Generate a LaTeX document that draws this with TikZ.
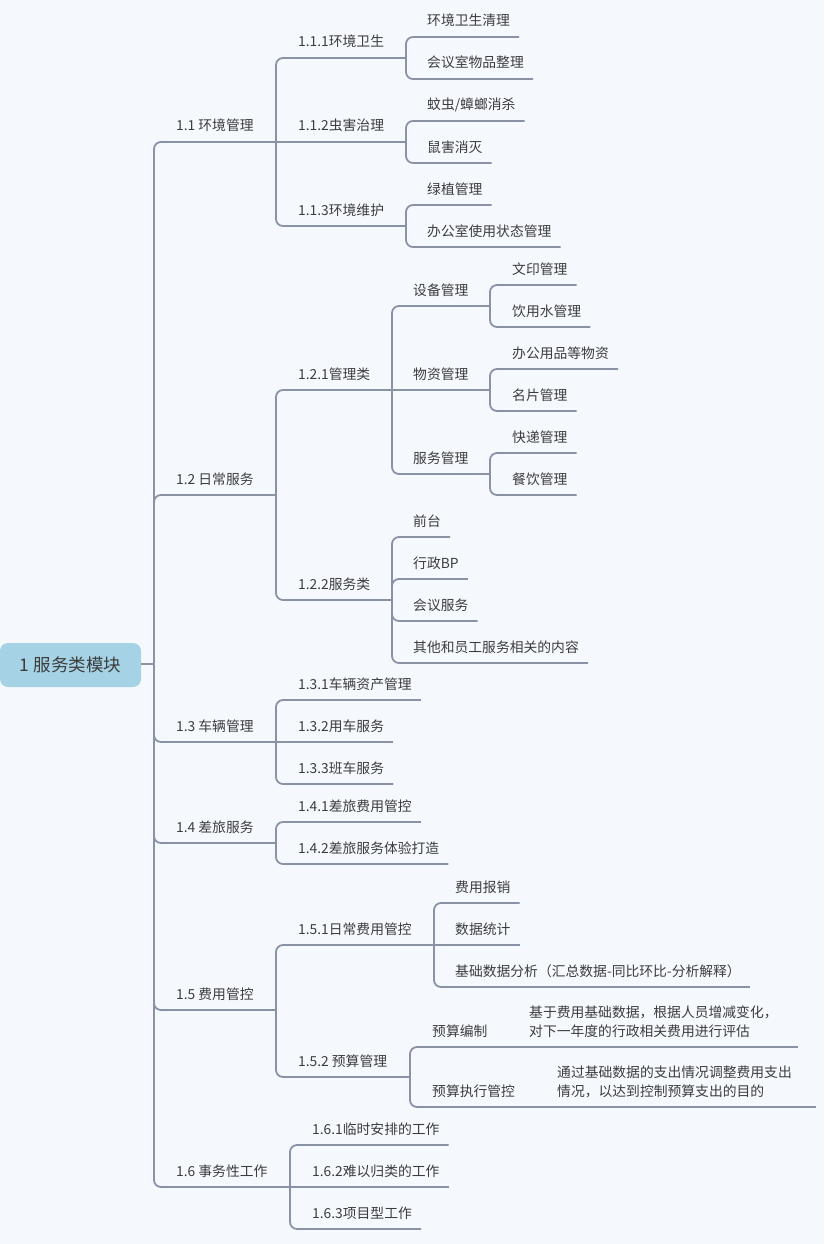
\documentclass[tikz,border=0pt]{standalone}
\usepackage{fontspec}
\setmainfont{Noto Sans CJK SC}
\usetikzlibrary{calc}
\definecolor{bgc}{HTML}{F5F9FE}
\definecolor{linec}{HTML}{8A92A6}
\definecolor{textc}{HTML}{3C3C3C}
\definecolor{rootc}{HTML}{A5D3E5}
\tikzset{
  txt/.style={inner sep=0pt, anchor=base west, text=textc, font=\fontsize{13.8}{19}\selectfont},
  br/.style={draw=linec, line width=1.8pt, rounded corners=7pt},
  rootbox/.style={fill=rootc, rounded corners=8pt, minimum width=141pt, minimum height=44pt,
    inner sep=0pt, text=textc, font=\fontsize{17.5}{20}\selectfont}
}
% item with a fixed underline end (non-leaf)
\newcommand\mmitem[5]{%
  \node[txt] (#1) at (#2,#3-11) {#5};
  \coordinate (#1-e) at (#4,#3);}
% leaf: underline ends 9pt after the text
\newcommand\mmleaf[4]{%
  \node[txt] (#1) at (#2,#3-11) {#4};
  \coordinate (#1-e) at ($(#1.base east)+(9,11)$);}
\newcommand\mmlink[2]{\draw[br] (#1) |- (#2-e);}
\newcommand\mmstraight[2]{\draw[br] (#1) -- (#2-e);}
\begin{document}
\begin{tikzpicture}[x=1pt,y=-1pt]
\useasboundingbox (0,0) rectangle (824,1244);
\fill[bgc] (0,0) rectangle (824,1244);

% root
\node[rootbox] (root) at (70.5,665) {1 服务类模块};
\coordinate (rj) at (154,664);
\draw[br] (root.east |- rj) -- (rj);

% level 1
\mmitem{a}{176}{142}{276}{1.1 环境管理}
\mmitem{b}{176}{495}{276}{1.2 日常服务}
\mmitem{c}{176}{742}{276}{1.3 车辆管理}
\mmitem{d}{176}{843}{276}{1.4 差旅服务}
\mmitem{e}{176}{1010}{276}{1.5 费用管控}
\mmitem{f}{176}{1187}{290}{1.6 事务性工作}
\mmlink{rj}{a}\mmlink{rj}{b}\mmlink{rj}{c}
\mmlink{rj}{d}\mmlink{rj}{e}\mmlink{rj}{f}

% 1.1
\mmitem{a1}{298}{58}{406}{1.1.1环境卫生}
\mmitem{a2}{298}{142}{406}{1.1.2虫害治理}
\mmitem{a3}{298}{226}{406}{1.1.3环境维护}
\mmlink{a-e}{a1}\mmstraight{a-e}{a2}\mmlink{a-e}{a3}
\mmleaf{a11}{427}{37}{环境卫生清理}
\mmleaf{a12}{427}{79}{会议室物品整理}
\mmleaf{a21}{427}{121}{蚊虫/蟑螂消杀}
\mmleaf{a22}{427}{163}{鼠害消灭}
\mmleaf{a31}{427}{205}{绿植管理}
\mmleaf{a32}{427}{247}{办公室使用状态管理}
\mmlink{a1-e}{a11}\mmlink{a1-e}{a12}
\mmlink{a2-e}{a21}\mmlink{a2-e}{a22}
\mmlink{a3-e}{a31}\mmlink{a3-e}{a32}

% 1.2
\mmitem{b1}{298}{390}{392}{1.2.1管理类}
\mmitem{b2}{298}{600}{392}{1.2.2服务类}
\mmlink{b-e}{b1}\mmlink{b-e}{b2}
\mmitem{b11}{413}{306}{490}{设备管理}
\mmitem{b12}{413}{390}{490}{物资管理}
\mmitem{b13}{413}{474}{490}{服务管理}
\mmlink{b1-e}{b11}\mmstraight{b1-e}{b12}\mmlink{b1-e}{b13}
\mmleaf{b111}{512}{285}{文印管理}
\mmleaf{b112}{512}{327}{饮用水管理}
\mmleaf{b121}{512}{369}{办公用品等物资}
\mmleaf{b122}{512}{411}{名片管理}
\mmleaf{b131}{512}{453}{快递管理}
\mmleaf{b132}{512}{495}{餐饮管理}
\mmlink{b11-e}{b111}\mmlink{b11-e}{b112}
\mmlink{b12-e}{b121}\mmlink{b12-e}{b122}
\mmlink{b13-e}{b131}\mmlink{b13-e}{b132}
\mmleaf{b21}{413}{537}{前台}
\mmleaf{b22}{413}{579}{行政BP}
\mmleaf{b23}{413}{621}{会议服务}
\mmleaf{b24}{413}{663}{其他和员工服务相关的内容}
\mmlink{b2-e}{b21}\mmlink{b2-e}{b22}\mmlink{b2-e}{b23}\mmlink{b2-e}{b24}

% 1.3
\mmleaf{c1}{298}{700}{1.3.1车辆资产管理}
\mmleaf{c2}{298}{742}{1.3.2用车服务}
\mmleaf{c3}{298}{784}{1.3.3班车服务}
\mmlink{c-e}{c1}\mmstraight{c-e}{c2}\mmlink{c-e}{c3}

% 1.4
\mmleaf{d1}{298}{822}{1.4.1差旅费用管控}
\mmleaf{d2}{298}{864}{1.4.2差旅服务体验打造}
\mmlink{d-e}{d1}\mmlink{d-e}{d2}

% 1.5
\mmitem{e1}{298}{945}{434}{1.5.1日常费用管控}
\mmitem{e2}{298}{1077}{410}{1.5.2 预算管理}
\mmlink{e-e}{e1}\mmlink{e-e}{e2}
\mmleaf{e11}{455}{903}{费用报销}
\mmleaf{e12}{455}{945}{数据统计}
\mmleaf{e13}{455}{987}{基础数据分析（汇总数据-同比环比-分析解释）}
\mmlink{e1-e}{e11}\mmstraight{e1-e}{e12}\mmlink{e1-e}{e13}
\mmitem{e21}{432}{1047}{521}{预算编制}
\mmitem{e22}{432}{1107}{548}{预算执行管控}
\mmlink{e2-e}{e21}\mmlink{e2-e}{e22}
\node[txt] (e211) at (529,1036) {\parbox[b]{260pt}{\baselineskip=19pt 基于费用基础数据，根据人员增减变化，\\对下一年度的行政相关费用进行评估}};
\coordinate (e211-e) at (798,1047);
\node[txt] (e221) at (557,1096) {\parbox[b]{260pt}{\baselineskip=19pt 通过基础数据的支出情况调整费用支出\\情况，以达到控制预算支出的目的}};
\coordinate (e221-e) at (816,1107);
\mmstraight{e21-e}{e211}\mmstraight{e22-e}{e221}

% 1.6
\mmleaf{f1}{312}{1145}{1.6.1临时安排的工作}
\mmleaf{f2}{312}{1187}{1.6.2难以归类的工作}
\mmleaf{f3}{312}{1229}{1.6.3项目型工作}
\mmlink{f-e}{f1}\mmstraight{f-e}{f2}\mmlink{f-e}{f3}
\end{tikzpicture}
\end{document}
